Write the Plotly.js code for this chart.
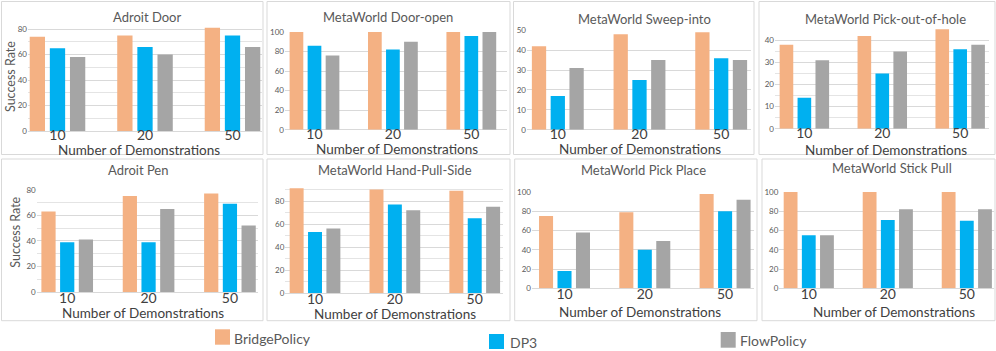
<!DOCTYPE html>
<html>
<head>
<meta charset="utf-8">
<script src="https://cdn.plot.ly/plotly-3.0.1.min.js"></script>
<style>
  html, body { margin: 0; padding: 0; background: #ffffff; }
  #plot { width: 996px; height: 351px; }
</style>
</head>
<body>
<div id="plot"></div>
<script>
// Chart data
let demos = ["10", "20", "50"];
let taskNames = [
  "Adroit Door", "MetaWorld Door-open", "MetaWorld Sweep-into", "MetaWorld Pick-out-of-hole",
  "Adroit Pen", "MetaWorld Hand-Pull-Side", "MetaWorld Pick Place", "MetaWorld Stick Pull"
];
let seriesNames = ["BridgePolicy", "DP3", "FlowPolicy"];
let seriesColors = ["#F4B183", "#00B0F0", "#A5A5A5"];

let bridgePolicy = [
  [74, 75, 81], [100, 100, 100], [42, 48, 49], [38, 42, 46],
  [63, 75, 77], [91, 90, 89], [75, 79, 98], [100, 100, 100]
];
let dp3 = [
  [65, 66, 75], [86, 82, 96], [17, 25, 36], [14, 25, 36],
  [39, 39, 69], [53, 77, 65], [18, 40, 80], [55, 71, 70]
];
let flowPolicy = [
  [58, 60, 66], [76, 90, 100], [31, 35, 35], [31, 35, 38],
  [41, 65, 52], [56, 72, 75], [58, 49, 92], [55, 82, 82]
];

// Panel geometry in pixels (the figure is a montage of cropped charts)
// plot: [left, right, top, bottom], xr: category range, ymax, dtick, minor grid step
let panels = [
  {box: [1.5, 263, 1.5, 154.5], plot: [28, 262, 24, 131], xr: [-0.337, 2.337], ymax: 84, dtick: 20, minor: 10,
   title: [147, 17], xt: [139, 150.5], ytitle: [10, 77], lab: -6},
  {box: [267, 510, 1.5, 154.5], plot: [285, 507, 32, 129.7], xr: [-0.376, 2.455], ymax: 100, dtick: 20, minor: 0,
   title: [388, 17], xt: [397, 149], lab: -6},
  {box: [513.5, 754, 1.5, 154.5], plot: [527, 751, 30.3, 129.7], xr: [-0.377, 2.365], ymax: 50, dtick: 10, minor: 0,
   title: [644.5, 19], xt: [639.5, 148.5], lab: -6},
  {box: [759, 995, 1.5, 154.5], plot: [775, 988.7, 29.3, 128.7], xr: [-0.377, 2.366], ymax: 45, dtick: 10, minor: 5,
   title: [885, 18.7], xt: [885.7, 150], lab: -6},
  {box: [1.5, 263, 159, 320.7], plot: [36.7, 258, 189.7, 292], xr: [-0.375, 2.345], ymax: 80, dtick: 20, minor: 10,
   title: [138, 170], xt: [143.3, 313], ytitle: [15.7, 232], lab: -4},
  {box: [267, 510, 159, 320.7], plot: [285.3, 503, 187.2, 293], xr: [-0.372, 2.354], ymax: 92, dtick: 20, minor: 10,
   title: [394.5, 170], xt: [395.3, 314], lab: -4},
  {box: [514.7, 757, 159, 320.7], plot: [532, 754, 192, 288.3], xr: [-0.405, 2.36], ymax: 100, dtick: 20, minor: 0,
   title: [643.7, 170], xt: [640.3, 311.7], lab: -4},
  {box: [762, 995, 159, 320.7], plot: [779.3, 994, 191, 288.3], xr: [-0.373, 2.344], ymax: 101, dtick: 20, minor: 0,
   title: [891.5, 168.3], xt: [893.7, 311.7], lab: -4}
];

// Legend placement: square [x0, x1, y0, y1], text [x, y]
let legendPos = [
  {sq: [215, 230, 329.3, 344.7], txt: [232, 338.7]},
  {sq: [489, 504, 334, 349], txt: [508, 342.5]},
  {sq: [720.7, 735.7, 332, 347.7], txt: [738.3, 340.5]}
];

const W = 996, H = 351;
const FONT = "Lato, 'Open Sans', sans-serif";
function fx(x) { return x / W; }
function fy(y) { return 1 - y / H; }

let allValues = [bridgePolicy, dp3, flowPolicy];
let data = [];
let layout = {
  width: W,
  height: H,
  margin: {l: 0, r: 0, t: 0, b: 0},
  paper_bgcolor: "#ffffff",
  plot_bgcolor: "#ffffff",
  barmode: "group",
  bargap: 0.31,
  bargroupgap: 0.24,
  showlegend: false,
  font: {family: FONT, color: "#595959"},
  annotations: [],
  shapes: []
};

for (let i = 0; i < panels.length; i++) {
  let p = panels[i];
  let n = i + 1;
  let suffix = n === 1 ? "" : String(n);

  // One trace per method in this panel
  for (let s = 0; s < seriesNames.length; s++) {
    data.push({
      type: "bar",
      x: demos,
      y: allValues[s][i],
      name: seriesNames[s],
      marker: {color: seriesColors[s], line: {width: 0}},
      xaxis: "x" + suffix,
      yaxis: "y" + suffix,
      hoverinfo: "y+name"
    });
  }

  layout["xaxis" + suffix] = {
    domain: [fx(p.plot[0]), fx(p.plot[1])],
    anchor: "y" + suffix,
    type: "category",
    range: p.xr,
    showgrid: false,
    zeroline: false,
    showline: false,
    ticks: "",
    ticklabelstandoff: p.lab,
    tickfont: {size: 14, color: "#404040", family: FONT}
  };

  let yAxis = {
    domain: [fy(p.plot[3]), fy(p.plot[2])],
    anchor: "x" + suffix,
    range: [0, p.ymax],
    tickmode: "linear",
    tick0: 0,
    dtick: p.dtick,
    showgrid: true,
    gridcolor: "#D9D9D9",
    gridwidth: 1,
    zeroline: true,
    zerolinecolor: "#D9D9D9",
    showline: false,
    ticks: "",
    tickfont: {size: 8, color: "#595959", family: FONT}
  };
  if (p.minor) {
    yAxis.minor = {dtick: p.minor, tick0: 0, showgrid: true, gridcolor: "#E4E4E4", gridwidth: 1};
  }
  layout["yaxis" + suffix] = yAxis;

  // Panel frame
  layout.shapes.push({
    type: "rect", xref: "paper", yref: "paper",
    x0: fx(p.box[0]), x1: fx(p.box[1]), y0: fy(p.box[3]), y1: fy(p.box[2]),
    line: {color: "#D9D9D9", width: 1}, fillcolor: "rgba(0,0,0,0)", layer: "below"
  });

  // Panel title
  layout.annotations.push({
    text: taskNames[i], xref: "paper", yref: "paper",
    x: fx(p.title[0]), y: fy(p.title[1]), xanchor: "center", yanchor: "middle",
    showarrow: false, font: {size: 13, color: "#595959", family: FONT}
  });

  // X axis title
  layout.annotations.push({
    text: "Number of Demonstrations", xref: "paper", yref: "paper",
    x: fx(p.xt[0]), y: fy(p.xt[1]), xanchor: "center", yanchor: "middle",
    showarrow: false, font: {size: 13.5, color: "#404040", family: FONT}
  });

  // Y axis title on left panels only
  if (p.ytitle) {
    layout.annotations.push({
      text: "Success Rate", xref: "paper", yref: "paper",
      x: fx(p.ytitle[0]), y: fy(p.ytitle[1]), xanchor: "center", yanchor: "middle",
      textangle: -90, showarrow: false, font: {size: 12.5, color: "#595959", family: FONT}
    });
  }
}

// Legend squares and labels
for (let s = 0; s < seriesNames.length; s++) {
  let lp = legendPos[s];
  layout.shapes.push({
    type: "rect", xref: "paper", yref: "paper",
    x0: fx(lp.sq[0]), x1: fx(lp.sq[1]), y0: fy(lp.sq[3]), y1: fy(lp.sq[2]),
    line: {width: 0}, fillcolor: seriesColors[s]
  });
  layout.annotations.push({
    text: seriesNames[s], xref: "paper", yref: "paper",
    x: fx(lp.txt[0]), y: fy(lp.txt[1]), xanchor: "left", yanchor: "middle",
    showarrow: false, font: {size: 14, color: "#595959", family: FONT}
  });
}

Plotly.newPlot("plot", data, layout, {displayModeBar: false, staticPlot: true});
</script>
</body>
</html>
